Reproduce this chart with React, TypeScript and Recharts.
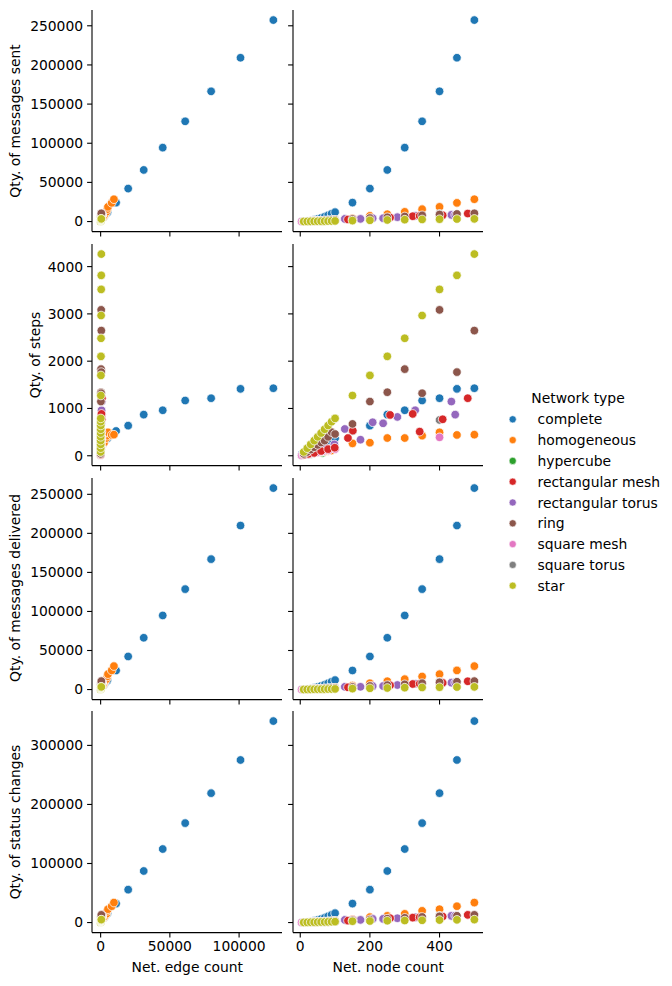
import React from 'react';
import { ScatterChart, Scatter, XAxis, YAxis } from 'recharts';

// ---------- categories ----------
const networkTypes = ['complete', 'homogeneous', 'hypercube', 'rectangular mesh', 'rectangular torus', 'ring', 'square mesh', 'square torus', 'star'];
const typeColors = ['#1f77b4', '#ff7f0e', '#2ca02c', '#d62728', '#9467bd', '#8c564b', '#e377c2', '#7f7f7f', '#bcbd22'];

// ---------- complete ----------
const completeNodes = [5, 10, 20, 30, 40, 50, 60, 70, 80, 90, 100, 150, 200, 250, 300, 350, 400, 450, 500];
const completeEdges = [10, 45, 190, 435, 780, 1225, 1770, 2415, 3160, 4005, 4950, 11175, 19900, 31125, 44850, 61075, 79800, 101025, 124750];
const completeSent = [40, 150, 600, 1300, 2200, 3300, 4600, 6200, 8000, 10000, 12000, 24200, 42100, 65900, 94400, 128000, 166300, 209200, 257300];
const completeSteps = [30, 60, 110, 150, 190, 220, 260, 290, 320, 350, 370, 524, 637, 870, 962, 1168, 1217, 1415, 1428];
const completeDelivered = [40, 150, 610, 1310, 2210, 3320, 4620, 6230, 8050, 10050, 12100, 24400, 42400, 66300, 94900, 128600, 167000, 210000, 258000];
const completeStatus = [60, 200, 700, 1600, 2800, 4300, 6000, 8000, 10500, 13000, 15900, 32100, 55700, 87300, 124500, 168400, 219100, 275300, 341200];

// ---------- homogeneous ----------
const homogeneousNodes = [10, 20, 30, 40, 50, 60, 70, 80, 90, 100, 150, 200, 250, 300, 350, 400, 450, 500];
const homogeneousEdges = [25, 60, 100, 150, 210, 270, 340, 420, 500, 700, 1450, 2450, 3150, 4150, 4800, 5300, 8000, 9600];
const homogeneousSent = [40, 130, 280, 450, 650, 900, 1200, 1500, 1800, 2100, 4300, 7270, 9400, 12370, 15800, 18750, 23850, 28500];
const homogeneousSteps = [20, 40, 50, 60, 70, 80, 90, 100, 110, 150, 262, 276, 375, 375, 425, 495, 440, 446];
const homogeneousDelivered = [45, 150, 310, 500, 720, 1000, 1330, 1650, 2000, 2400, 5000, 8100, 10700, 13300, 16750, 19700, 24500, 30000];
const homogeneousStatus = [60, 180, 370, 600, 860, 1200, 1600, 2000, 2400, 2800, 5500, 9100, 11300, 14700, 19800, 22600, 27700, 33800];

// ---------- hypercube ----------
const hypercubeNodes = [4, 8, 16, 32, 64];
const hypercubeEdges = [4, 12, 32, 80, 192];
const hypercubeSent = [30, 100, 300, 800, 2000];
const hypercubeSteps = [5, 10, 20, 40, 60];
const hypercubeDelivered = [30, 100, 300, 800, 2000];
const hypercubeStatus = [40, 130, 400, 1000, 2500];

// ---------- rectangular mesh ----------
const rectMeshNodes = [12, 24, 40, 60, 80, 99, 137, 151, 258, 323, 343, 409, 481];
const rectMeshEdges = [17, 38, 66, 104, 142, 178, 248, 278, 488, 612, 652, 788, 928];
const rectMeshSent = [150, 350, 600, 900, 1300, 1700, 2700, 3000, 5100, 6800, 7200, 8100, 10200];
const rectMeshSteps = [20, 40, 60, 100, 140, 170, 375, 530, 863, 885, 510, 771, 1217];
const rectMeshDelivered = [160, 370, 630, 950, 1350, 1800, 2850, 3200, 5400, 7100, 7500, 8500, 10600];
const rectMeshStatus = [200, 450, 750, 1100, 1600, 2100, 3300, 4500, 7400, 8300, 8800, 10100, 13000];

// ---------- rectangular torus ----------
const rectTorusNodes = [18, 32, 50, 72, 98, 128, 173, 208, 238, 279, 330, 434, 445];
const rectTorusEdges = [36, 64, 100, 144, 196, 256, 346, 416, 476, 558, 660, 868, 890];
const rectTorusSent = [250, 450, 700, 1000, 1400, 3400, 3400, 4300, 4300, 5600, 7300, 8500, 8700];
const rectTorusSteps = [30, 60, 130, 180, 240, 566, 340, 708, 686, 821, 962, 1146, 870];
const rectTorusDelivered = [260, 470, 730, 1050, 1450, 3500, 3500, 4400, 4450, 5800, 7500, 8800, 9000];
const rectTorusStatus = [300, 550, 850, 1200, 1700, 4500, 4500, 6200, 6200, 7300, 8800, 11300, 11600];

// ---------- ring ----------
const ringNodes = [10, 20, 30, 40, 50, 60, 70, 80, 90, 100, 150, 200, 250, 300, 350, 400, 450, 500];
const ringEdges = [10, 20, 30, 40, 50, 60, 70, 80, 90, 100, 150, 200, 250, 300, 350, 400, 450, 500];
const ringSent = [220, 450, 650, 900, 1100, 1300, 1500, 1700, 1900, 2100, 3200, 4500, 5500, 6500, 8000, 9000, 9700, 10500];
const ringSteps = [40, 80, 130, 180, 230, 280, 320, 400, 500, 460, 673, 1146, 1344, 1832, 1323, 3085, 1769, 2647];
const ringDelivered = [230, 460, 670, 920, 1130, 1340, 1550, 1750, 1950, 2150, 3300, 4600, 5700, 6700, 8200, 9300, 10000, 10800];
const ringStatus = [280, 560, 820, 1100, 1350, 1600, 1850, 2100, 2350, 2500, 3800, 5200, 6500, 8000, 9500, 10500, 11500, 13000];

// ---------- square mesh ----------
const squareMeshNodes = [4, 9, 16, 25, 36, 49, 64, 81, 100, 400];
const squareMeshEdges = [4, 12, 24, 40, 60, 84, 112, 144, 180, 760];
const squareMeshSent = [30, 80, 160, 260, 400, 550, 750, 950, 1200, 8000];
const squareMeshSteps = [5, 15, 25, 40, 55, 75, 95, 115, 140, 390];
const squareMeshDelivered = [30, 80, 160, 260, 400, 550, 750, 950, 1200, 8200];
const squareMeshStatus = [40, 100, 200, 330, 500, 700, 950, 1200, 1500, 9500];

// ---------- square torus ----------
const squareTorusNodes = [9, 16, 25, 36, 49, 64, 81, 100, 400];
const squareTorusEdges = [18, 32, 50, 72, 98, 128, 162, 200, 800];
const squareTorusSent = [80, 150, 250, 400, 550, 750, 950, 1200, 9800];
const squareTorusSteps = [15, 25, 35, 50, 70, 90, 120, 170, 757];
const squareTorusDelivered = [80, 150, 250, 400, 560, 760, 970, 1230, 10000];
const squareTorusStatus = [100, 200, 320, 500, 700, 950, 1200, 1500, 11500];

// ---------- star ----------
const starNodes = [10, 20, 30, 40, 50, 60, 70, 80, 90, 100, 150, 200, 250, 300, 350, 400, 450, 500];
const starEdges = [9, 19, 29, 39, 49, 59, 69, 79, 89, 99, 149, 199, 249, 299, 349, 399, 449, 499];
const starSent = [60, 140, 220, 300, 380, 460, 540, 620, 700, 800, 1200, 1600, 2000, 2400, 2700, 3000, 3200, 3400];
const starSteps = [80, 160, 240, 320, 400, 480, 560, 640, 720, 790, 1274, 1699, 2102, 2484, 2966, 3518, 3815, 4265];
const starDelivered = [60, 140, 220, 300, 380, 460, 540, 620, 700, 800, 1200, 1600, 2000, 2400, 2700, 3000, 3200, 3400];
const starStatus = [150, 300, 450, 600, 750, 900, 1050, 1200, 1350, 1500, 2200, 2600, 3000, 3400, 3800, 4200, 4600, 5000];

// ---------- ticks ----------
const edgeTicks = [0, 50000, 100000];
const nodeTicks = [0, 200, 400];
const sentTicks = [0, 50000, 100000, 150000, 200000, 250000];
const stepsTicks = [0, 1000, 2000, 3000, 4000];
const deliveredTicks = [0, 50000, 100000, 150000, 200000, 250000];
const statusTicks = [0, 100000, 200000, 300000];

type Rec = { nodes: number; edges: number; sent: number; steps: number; delivered: number; status: number };

function build(n: number[], e: number[], s: number[], st: number[], d: number[], sc: number[]): Rec[] {
  return n.map((v, i) => ({ nodes: v, edges: e[i], sent: s[i], steps: st[i], delivered: d[i], status: sc[i] }));
}

const dataByType: Record<string, Rec[]> = {
  'complete': build(completeNodes, completeEdges, completeSent, completeSteps, completeDelivered, completeStatus),
  'homogeneous': build(homogeneousNodes, homogeneousEdges, homogeneousSent, homogeneousSteps, homogeneousDelivered, homogeneousStatus),
  'hypercube': build(hypercubeNodes, hypercubeEdges, hypercubeSent, hypercubeSteps, hypercubeDelivered, hypercubeStatus),
  'rectangular mesh': build(rectMeshNodes, rectMeshEdges, rectMeshSent, rectMeshSteps, rectMeshDelivered, rectMeshStatus),
  'rectangular torus': build(rectTorusNodes, rectTorusEdges, rectTorusSent, rectTorusSteps, rectTorusDelivered, rectTorusStatus),
  'ring': build(ringNodes, ringEdges, ringSent, ringSteps, ringDelivered, ringStatus),
  'square mesh': build(squareMeshNodes, squareMeshEdges, squareMeshSent, squareMeshSteps, squareMeshDelivered, squareMeshStatus),
  'square torus': build(squareTorusNodes, squareTorusEdges, squareTorusSent, squareTorusSteps, squareTorusDelivered, squareTorusStatus),
  'star': build(starNodes, starEdges, starSent, starSteps, starDelivered, starStatus),
};

const drawOrder = ['hypercube', 'complete', 'homogeneous', 'square torus', 'square mesh', 'rectangular torus', 'rectangular mesh', 'ring', 'star'];

const allRecs: Rec[] = Object.values(dataByType).flat();
function padDomain(key: keyof Rec): [number, number] {
  const vals = allRecs.map((r) => r[key]);
  const lo = Math.min(...vals);
  const hi = Math.max(...vals);
  const m = (hi - lo) * 0.05;
  return [lo - m, hi + m];
}

const FONT = '"DejaVu Sans", sans-serif';
const FS = 13.9;

// layout
const colLeft = [92.3, 293.3];
const colWidth = 190;
const rowTop = [10, 243.8, 477.6, 711.4];
const rowHeight = 221.6;

const rows: { key: keyof Rec; ticks: number[]; label: string; labelX: number }[] = [
  { key: 'sent', ticks: sentTicks, label: 'Qty. of messages sent', labelX: 16 },
  { key: 'steps', ticks: stepsTicks, label: 'Qty. of steps', labelX: 36 },
  { key: 'delivered', ticks: deliveredTicks, label: 'Qty. of messages delivered', labelX: 16 },
  { key: 'status', ticks: statusTicks, label: 'Qty. of status changes', labelX: 16 },
];
const cols: { key: keyof Rec; ticks: number[]; label: string }[] = [
  { key: 'edges', ticks: edgeTicks, label: 'Net. edge count' },
  { key: 'nodes', ticks: nodeTicks, label: 'Net. node count' },
];

function Panel(props: {
  left: number; top: number; width: number; height: number;
  xKey: keyof Rec; yKey: keyof Rec; xTicks: number[]; yTicks: number[];
  showX: boolean; showY: boolean;
}) {
  const { left, top, width, height, xKey, yKey, xTicks, yTicks, showX, showY } = props;
  const yAxisW = 80;
  const mTop = 6;
  const mRight = 6;
  const xAxisH = 30;
  const W = width + yAxisW + mRight;
  const H = height + mTop + xAxisH;
  const tickStyle = { fill: '#000', fontSize: FS, fontFamily: FONT };
  return (
    <div style={{ position: 'absolute', left: left - yAxisW, top: top - mTop }}>
      <ScatterChart width={W} height={H} margin={{ top: mTop, right: mRight, bottom: 0, left: 0 }}>
        <XAxis
          type="number"
          dataKey={xKey as string}
          domain={padDomain(xKey)}
          ticks={xTicks}
          interval={0}
          allowDataOverflow
          height={xAxisH}
          tickSize={4.9}
          tickMargin={4}
          axisLine={{ stroke: '#000', strokeWidth: 1.1 }}
          tickLine={{ stroke: '#000', strokeWidth: 1.1 }}
          tick={tickStyle}
          tickFormatter={showX ? (v: number) => String(v) : () => ''}
        />
        <YAxis
          type="number"
          dataKey={yKey as string}
          domain={padDomain(yKey)}
          ticks={yTicks}
          interval={0}
          allowDataOverflow
          width={yAxisW}
          tickSize={4.9}
          tickMargin={4}
          axisLine={{ stroke: '#000', strokeWidth: 1.1 }}
          tickLine={{ stroke: '#000', strokeWidth: 1.1 }}
          tick={tickStyle}
          tickFormatter={showY ? (v: number) => String(v) : () => ''}
        />
        {drawOrder.map((name) => {
          const color = typeColors[networkTypes.indexOf(name)];
          return (
            <Scatter
              key={name}
              name={name}
              data={dataByType[name]}
              fill={color}
              isAnimationActive={false}
              shape={(p: any) => (
                <circle cx={p.cx} cy={p.cy} r={4.3} fill={color} stroke="#ffffff" strokeWidth={0.75} />
              )}
            />
          );
        })}
      </ScatterChart>
    </div>
  );
}

export default function App() {
  return (
    <div style={{ position: 'absolute', left: 0, top: 0, width: 672, height: 986, background: '#fff', fontFamily: FONT }}>
      {rows.map((r, ri) =>
        cols.map((c, ci) => (
          <Panel
            key={`${ri}-${ci}`}
            left={colLeft[ci]}
            top={rowTop[ri]}
            width={colWidth}
            height={rowHeight}
            xKey={c.key}
            yKey={r.key}
            xTicks={c.ticks}
            yTicks={r.ticks}
            showX={ri === rows.length - 1}
            showY={ci === 0}
          />
        ))
      )}
      {rows.map((r, ri) => (
        <div
          key={`yl-${ri}`}
          style={{
            position: 'absolute',
            left: r.labelX,
            top: rowTop[ri] + rowHeight / 2,
            transform: 'translate(-50%, -50%) rotate(-90deg)',
            whiteSpace: 'nowrap',
            fontSize: FS,
            color: '#000',
            lineHeight: 1,
          }}
        >
          {r.label}
        </div>
      ))}
      {cols.map((c, ci) => (
        <div
          key={`xl-${ci}`}
          style={{
            position: 'absolute',
            left: colLeft[ci] + colWidth / 2,
            top: 968,
            transform: 'translate(-50%, -50%)',
            whiteSpace: 'nowrap',
            fontSize: FS,
            color: '#000',
            lineHeight: 1,
          }}
        >
          {c.label}
        </div>
      ))}
      <svg style={{ position: 'absolute', left: 490, top: 380 }} width={182} height={220}>
        <text x={88} y={18} textAnchor="middle" dominantBaseline="central" fontSize={FS} fontFamily={FONT} fill="#000">
          Network type
        </text>
        {networkTypes.map((t, i) => (
          <g key={t}>
            <circle cx={22.7} cy={39.3 + i * 20.8} r={3.6} fill={typeColors[i]} stroke="#fff" strokeWidth={0.6} />
            <text x={47.5} y={39.3 + i * 20.8} dominantBaseline="central" fontSize={FS} fontFamily={FONT} fill="#000">
              {t}
            </text>
          </g>
        ))}
      </svg>
    </div>
  );
}
